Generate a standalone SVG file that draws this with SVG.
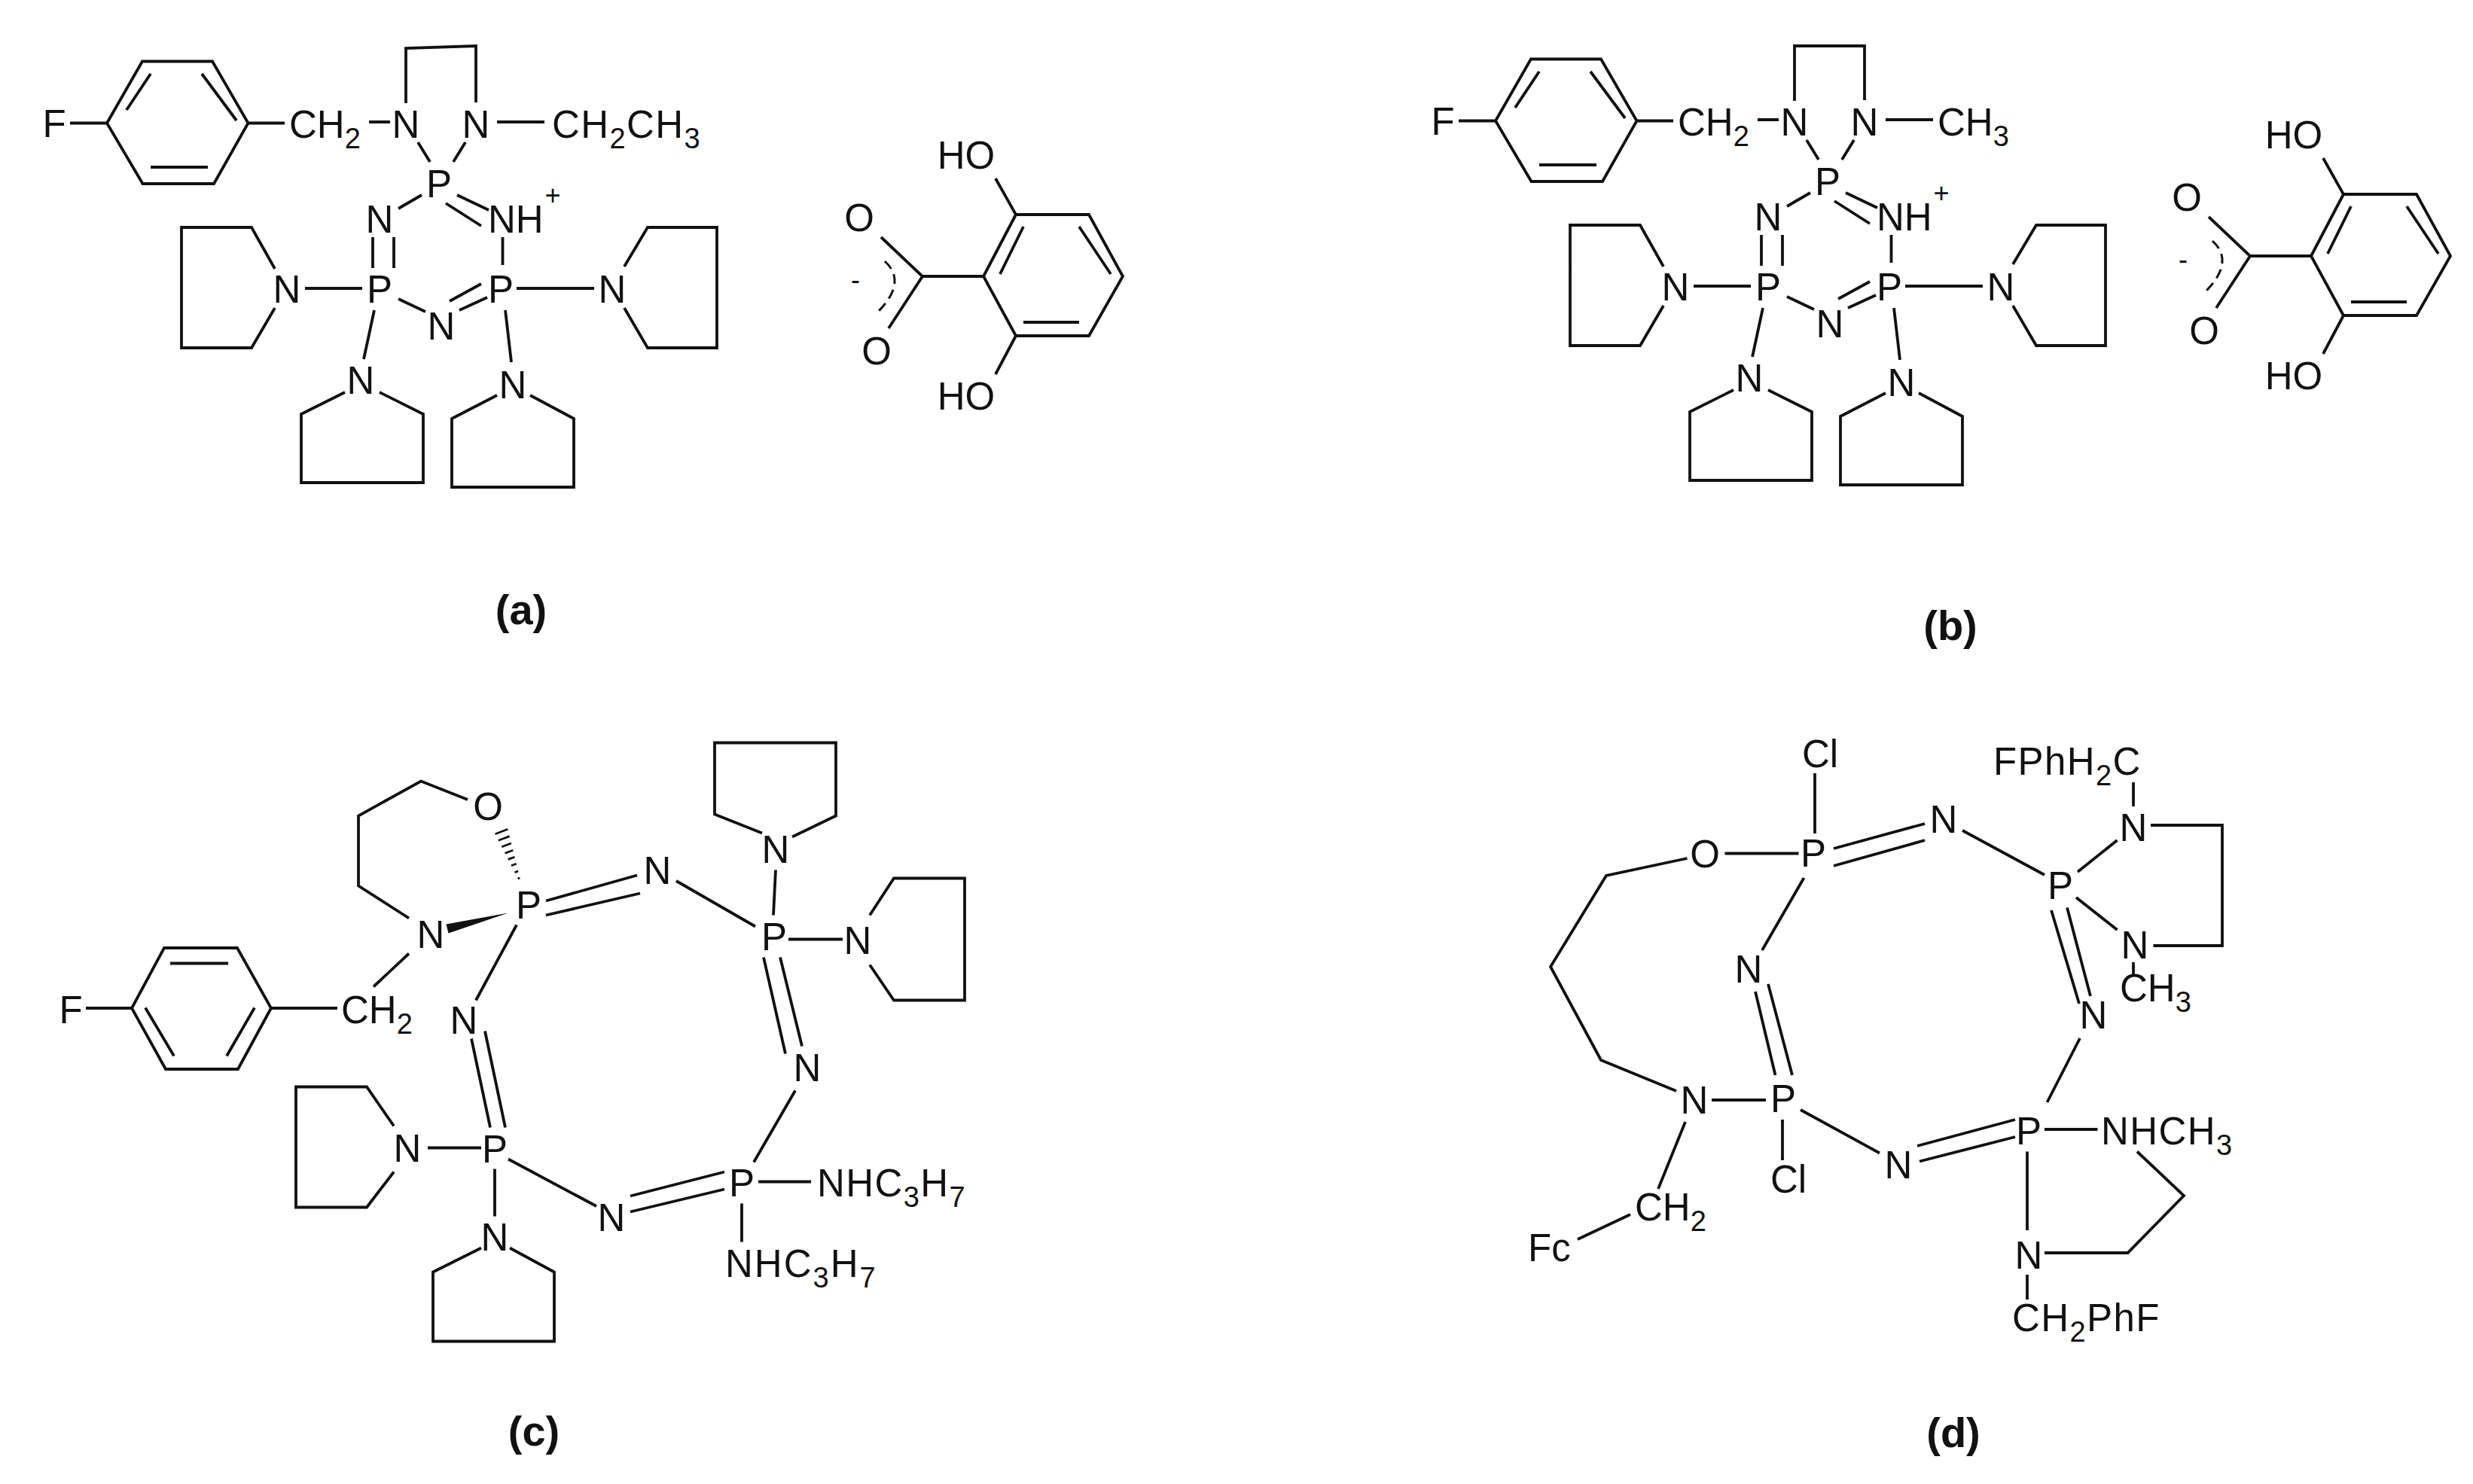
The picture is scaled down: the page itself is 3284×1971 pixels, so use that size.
<svg xmlns="http://www.w3.org/2000/svg" width="3284" height="1971" viewBox="0 0 3284 1971">
<style>
text{font-family:"Liberation Sans",Arial,sans-serif;font-size:51px;fill:#111;text-anchor:middle}
text.l{text-anchor:start}
text.w{letter-spacing:1.4px}
text.c{font-weight:bold;font-size:56px}
tspan.s{font-size:38px}
text.sup{font-size:36px}
.bonds path{fill:none;stroke:#111;stroke-width:3.8;stroke-linejoin:miter;stroke-linecap:butt}
.bonds path.dash{stroke-width:3;stroke-dasharray:13 8}
.bonds path.wedge{fill:#111;stroke:none}
.bonds path.hash{stroke-width:2.8}
</style>
<rect width="3284" height="1971" fill="#fff"/>

<g id="molecule-a">
<g transform="translate(-3,-1)">
<g id="a-connectors" class="bonds">
<path d="M192 82.5H285L332.5 164.5L287 245H192.5L145 164.5Z"/>
<path d="M271 99L317 161M203 99L171 147M203 223H279"/>
<path d="M96 164.5H145M332.5 164.5H381M493 163H521"/>
<path d="M542 138V65L635 62V137M663 163H726"/>
<path d="M558 190L574 216M621 190L605 216M563 260L532 278"/>
<path d="M610 260L652 280M595 271L642 301"/>
<path d="M498 316V357M526 316V357M670.5 316V353"/>
<path d="M532 398L568 415M600 401L642 378M613 413L650 396"/>
<path d="M368 358L337 303H244V463H337L368 410M408 384H484"/>
<path d="M832 355L863 303H955V463H863L832 410M689 384H792"/>
<path d="M500 413L486 478M461 522L403 551V642H565V551L507 522"/>
<path d="M674 413L682 482M663 526L603 557V648H765V557L707 526"/>
</g>
<g id="a-F"><text x="75" y="183">F</text></g>
<g id="a-CH2"><text class="l" x="387" y="184">CH<tspan class="s" dy="14">2</tspan></text></g>
<g id="a-N1"><text x="542" y="184">N</text></g>
<g id="a-N2"><text x="635" y="184">N</text></g>
<g id="a-CH2CH3"><text class="l w" x="736" y="184">CH<tspan class="s" dy="14">2</tspan><tspan dy="-14">CH</tspan><tspan class="s" dy="14">3</tspan></text></g>
<g id="a-P1"><text x="586" y="263">P</text></g>
<g id="a-N3"><text x="507" y="310">N</text></g>
<g id="a-NH"><text class="l" x="651" y="310">NH</text></g>
<g id="a-plus"><text class="sup" x="737" y="273">+</text></g>
<g id="a-P2"><text x="507" y="403">P</text></g>
<g id="a-P3"><text x="668" y="403">P</text></g>
<g id="a-N4"><text x="589" y="452">N</text></g>
<g id="a-N5"><text x="384" y="403">N</text></g>
<g id="a-N6"><text x="816" y="403">N</text></g>
<g id="a-N7"><text x="482" y="524">N</text></g>
<g id="a-N8"><text x="684" y="530">N</text></g>
</g>
<g transform="translate(-4,-2)">
<g id="a-acid-connectors" class="bonds">
<path d="M1353 287H1450L1495 369L1450 448H1353L1310 369Z"/>
<path d="M1363 303L1332 366M1437 303L1479 366M1363 430H1437"/>
<path d="M1326 239L1353 287M1353 448L1326 499"/>
<path d="M1229 369H1310M1174 317L1229 369L1184 438"/>
<path class="dash" d="M1179 349Q1210 377 1168 418"/>
</g>
<g id="a-HO1"><text x="1287" y="226">HO</text></g>
<g id="a-HO2"><text x="1287" y="546">HO</text></g>
<g id="a-O1"><text x="1145" y="309">O</text></g>
<g id="a-O2"><text x="1168" y="486">O</text></g>
<g id="a-minus"><text class="sup" x="1140" y="386">-</text></g>
</g>
<g id="a-label"><text class="c" x="692" y="829">(a)</text></g>
</g>

<g id="molecule-b">
<g transform="translate(1841,-4)">
<g id="b-connectors" class="bonds">
<path d="M192 82.5H285L332.5 164.5L287 245H192.5L145 164.5Z"/>
<path d="M271 99L317 161M203 99L171 147M203 223H279"/>
<path d="M96 164.5H145M332.5 164.5H381M493 163H521"/>
<path d="M542 138V65H635V137M663 163H726"/>
<path d="M558 190L574 216M621 190L605 216M563 260L532 278"/>
<path d="M610 260L652 280M595 271L642 301"/>
<path d="M498 316V357M526 316V357M670.5 316V353"/>
<path d="M532 398L568 415M600 401L642 378M613 413L650 396"/>
<path d="M368 358L337 303H244V463H337L368 410M408 384H484"/>
<path d="M832 355L863 303H955V463H863L832 410M689 384H792"/>
<path d="M500 413L486 478M461 522L403 551V642H565V551L507 522"/>
<path d="M674 413L682 482M663 526L603 557V648H765V557L707 526"/>
</g>
<g id="b-F"><text x="75" y="183">F</text></g>
<g id="b-CH2"><text class="l" x="387" y="184">CH<tspan class="s" dy="14">2</tspan></text></g>
<g id="b-N1"><text x="542" y="184">N</text></g>
<g id="b-N2"><text x="635" y="184">N</text></g>
<g id="b-CH3"><text class="l" x="732" y="184">CH<tspan class="s" dy="14">3</tspan></text></g>
<g id="b-P1"><text x="586" y="263">P</text></g>
<g id="b-N3"><text x="507" y="310">N</text></g>
<g id="b-NH"><text class="l" x="651" y="310">NH</text></g>
<g id="b-plus"><text class="sup" x="737" y="273">+</text></g>
<g id="b-P2"><text x="507" y="403">P</text></g>
<g id="b-P3"><text x="668" y="403">P</text></g>
<g id="b-N4"><text x="589" y="452">N</text></g>
<g id="b-N5"><text x="384" y="403">N</text></g>
<g id="b-N6"><text x="816" y="403">N</text></g>
<g id="b-N7"><text x="482" y="524">N</text></g>
<g id="b-N8"><text x="684" y="530">N</text></g>
</g>
<g transform="translate(1759,-29)">
<g id="b-acid-connectors" class="bonds">
<path d="M1353 287H1450L1495 369L1450 448H1353L1310 369Z"/>
<path d="M1363 303L1332 366M1437 303L1479 366M1363 430H1437"/>
<path d="M1326 239L1353 287M1353 448L1326 499"/>
<path d="M1229 369H1310M1174 317L1229 369L1184 438"/>
<path class="dash" d="M1179 349Q1210 377 1168 418"/>
</g>
<g id="b-HO1"><text x="1287" y="226">HO</text></g>
<g id="b-HO2"><text x="1287" y="546">HO</text></g>
<g id="b-O1"><text x="1145" y="309">O</text></g>
<g id="b-O2"><text x="1168" y="486">O</text></g>
<g id="b-minus"><text class="sup" x="1140" y="386">-</text></g>
</g>
<g id="b-label"><text class="c" x="2590" y="850">(b)</text></g>
</g>

<g id="molecule-c">
<g transform="translate(-2,-2.5)">
<g id="c-connectors" class="bonds">
<path d="M220 1261.5H317L362 1341.5L318 1422.5H222L177 1341.5Z"/>
<path d="M228 1282H305M195 1341L233 1405M340 1341L303 1405"/>
<path d="M116 1341.5H177M362 1341.5H450M498 1313L545 1269"/>
<path d="M545 1222L478 1179V1086L561 1040L623 1064.5"/>
<path class="hash" d="M659.6 1110.2L676.4 1103.8M663.9 1118.7L678.7 1113.1M668.3 1127.3L680.9 1122.5M672.5 1135.7L683.3 1131.7M676.7 1143.9L685.5 1140.7M680.9 1152.3L687.7 1149.7M685.5 1161.2L690.1 1159.4M689.6 1169.5L692.4 1168.5"/>
<path class="wedge" d="M594.5 1230L597.5 1242L677 1215Z"/>
<path d="M727 1199L848 1165M727 1218L852 1189M900 1172.5L1005 1233"/>
<path d="M1032 1158L1029 1218M1014 1109L951 1084V989H1112V1086L1054 1114"/>
<path d="M1049 1250H1121M1157 1218L1189 1169H1283V1331H1189L1157 1284"/>
<path d="M1016 1274L1045 1402M1038 1274L1067 1392M1058 1451L1003 1546"/>
<path d="M1009 1572H1079M987 1601V1652"/>
<path d="M839 1591L964 1559M839 1612L964 1582M794 1604.5L677 1542"/>
<path d="M628 1382L653 1500M646 1372L673 1500M634 1331L688 1231"/>
<path d="M570 1527H641M525 1498L489 1446H395V1606H489L525 1559"/>
<path d="M659 1555V1618M641 1660L577 1692V1784H738V1692L679 1660"/>
</g>
<g id="c-F"><text x="96" y="1361.5">F</text></g>
<g id="c-CH2"><text class="l" x="455" y="1361.5">CH<tspan class="s" dy="14">2</tspan></text></g>
<g id="c-N1"><text x="574" y="1261">N</text></g>
<g id="c-O"><text x="650" y="1091">O</text></g>
<g id="c-P1"><text x="704" y="1222">P</text></g>
<g id="c-N2"><text x="875" y="1176">N</text></g>
<g id="c-P2"><text x="1030" y="1264">P</text></g>
<g id="c-N3"><text x="1032" y="1148">N</text></g>
<g id="c-N4"><text x="1141" y="1269">N</text></g>
<g id="c-N5"><text x="1074" y="1438">N</text></g>
<g id="c-P3"><text x="987" y="1591">P</text></g>
<g id="c-NHC3H7a"><text class="l w" x="1087" y="1591">NHC<tspan class="s" dy="14">3</tspan><tspan dy="-14">H</tspan><tspan class="s" dy="14">7</tspan></text></g>
<g id="c-NHC3H7b"><text class="l w" x="965" y="1698" style="letter-spacing:2px">NHC<tspan class="s" dy="14">3</tspan><tspan dy="-14">H</tspan><tspan class="s" dy="14">7</tspan></text></g>
<g id="c-N6"><text x="814" y="1637">N</text></g>
<g id="c-P4"><text x="659" y="1546">P</text></g>
<g id="c-N7"><text x="618" y="1375.5">N</text></g>
<g id="c-N8"><text x="543" y="1545">N</text></g>
<g id="c-N9"><text x="659" y="1663">N</text></g>
</g>
<g id="c-label"><text class="c" x="709" y="1920">(c)</text></g>
</g>

<g id="molecule-d">
<g transform="translate(0,-3)">
<g id="d-connectors" class="bonds">
<path d="M2410 1030V1110M2290.5 1136.5H2388.5"/>
<path d="M2240.5 1143L2133 1166L2059 1287L2126 1411L2226 1452"/>
<path d="M2273 1464H2345M2367 1490V1544M2238 1493L2202 1582M2165 1616L2095 1649"/>
<path d="M2395.5 1169L2340 1265M2331 1320L2357.5 1431M2348 1310L2380 1431"/>
<path d="M2435 1130L2556 1097M2435 1153L2556 1119M2606 1106L2715 1165"/>
<path d="M2759 1161L2811.5 1119M2833 1042V1074M2856 1099H2951V1259H2859.5"/>
<path d="M2757 1195L2811.5 1238M2833 1281V1297"/>
<path d="M2724 1212L2761 1336M2745 1208.5L2776 1326M2762 1382L2718.5 1467"/>
<path d="M2715 1503H2785.5M2838 1532.5L2900 1591L2825.5 1667H2715"/>
<path d="M2692 1532.5V1637M2692 1696V1729"/>
<path d="M2546 1525L2676 1490M2549 1545.5L2676 1513M2391 1477L2496 1534.5"/>
</g>
<g id="d-Cl1"><text x="2417" y="1022">Cl</text></g>
<g id="d-P1"><text x="2408" y="1154">P</text></g>
<g id="d-O"><text x="2264" y="1155">O</text></g>
<g id="d-N1"><text x="2250" y="1482">N</text></g>
<g id="d-P2"><text x="2368" y="1480">P</text></g>
<g id="d-Cl2"><text x="2375" y="1587">Cl</text></g>
<g id="d-CH2a"><text class="l" x="2171" y="1624">CH<tspan class="s" dy="14">2</tspan></text></g>
<g id="d-Fc"><text class="l" x="2029" y="1678">Fc</text></g>
<g id="d-N2"><text x="2322" y="1308">N</text></g>
<g id="d-N3"><text x="2581" y="1109">N</text></g>
<g id="d-P3"><text x="2736" y="1197">P</text></g>
<g id="d-N4"><text x="2833" y="1120">N</text></g>
<g id="d-FPhH2C"><text class="l w" x="2647" y="1032">FPhH<tspan class="s" dy="14">2</tspan><tspan dy="-14">C</tspan></text></g>
<g id="d-N5"><text x="2835" y="1276">N</text></g>
<g id="d-CH3"><text class="l" x="2815" y="1333">CH<tspan class="s" dy="14">3</tspan></text></g>
<g id="d-N6"><text x="2780" y="1369">N</text></g>
<g id="d-P4"><text x="2694" y="1523">P</text></g>
<g id="d-NHCH3"><text class="l w" x="2790" y="1523">NHCH<tspan class="s" dy="14">3</tspan></text></g>
<g id="d-N7"><text x="2694" y="1688">N</text></g>
<g id="d-CH2PhF"><text class="l w" x="2672" y="1771">CH<tspan class="s" dy="14">2</tspan><tspan dy="-14">PhF</tspan></text></g>
<g id="d-N8"><text x="2521" y="1568">N</text></g>
</g>
<g id="d-label"><text class="c" x="2594" y="1922">(d)</text></g>
</g>
</svg>
